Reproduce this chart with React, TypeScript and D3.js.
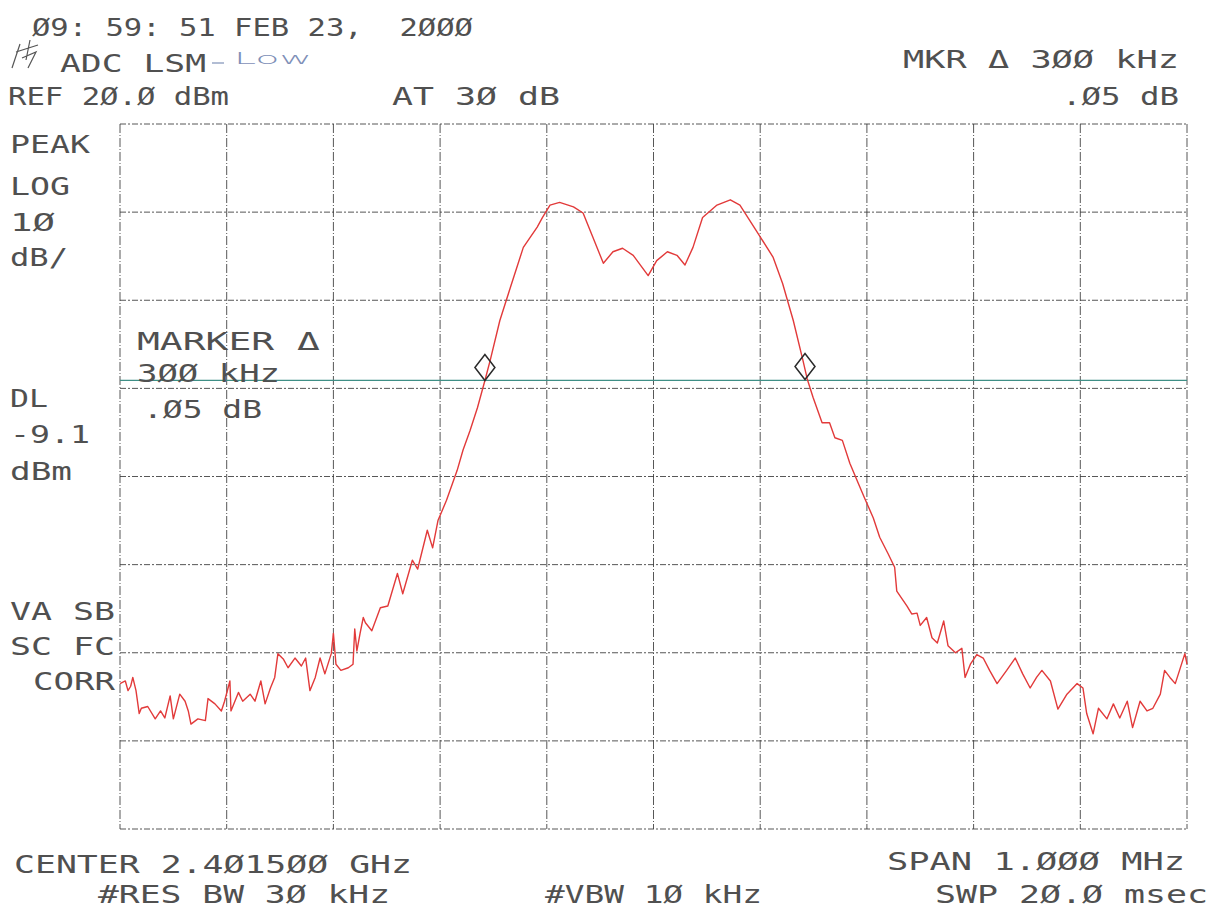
import React from "react";
import * as d3 from "d3";

// Spectrum analyzer trace: frequency offset from center (kHz) and level (dBm)
const traceFreq: number[] = [
  -500, -495, -492.5, -490, -488, -485, -482, -480, -474, -467, -462, -458, -453, -450, -444, -439, -436, -433.5,
  -427, -420, -417.5, -411, -405, -402, -397, -396, -389, -385, -378, -373.5, -368, -364, -359, -355, -352, -347,
  -342.5, -336, -330, -326, -322, -317, -312.5, -308, -302, -300, -297.6, -293, -286, -281.6, -280, -278, -275,
  -272, -270, -264, -256, -249, -240, -235, -226, -221, -212, -207, -202, -194, -184, -178.5, -172, -165, -158,
  -153, -144, -134, -122, -109, -104, -97, -88, -75, -66, -57, -47, -38, -29, -19, -5, 3, 13, 22, 29.5, 37, 46,
  59.5, 72, 81, 90, 100, 112, 121, 131, 140, 144, 149.5, 158, 165, 170, 177, 184, 192, 198, 206, 212, 220, 226,
  228, 237.6, 242, 247, 250, 256, 261, 266, 272, 276, 283, 289, 292, 297, 303, 309, 315, 322, 331, 339, 346, 353,
  359, 364, 372, 379, 387.5, 397, 402.5, 406, 412, 417, 425, 431, 437, 444, 449, 456, 462.5, 468, 475, 479, 484,
  489, 493, 498, 500,
];
const traceLevel: number[] = [
  -43.5, -43.2, -44.3, -43.8, -42.8, -44.3, -46.9, -46.3, -46.1, -47.5, -46.6, -47.4, -44.9, -47.5, -44.7, -45.5,
  -46.6, -48.1, -47.5, -47.7, -45.2, -45.8, -46.6, -45.5, -43.2, -46.6, -44.5, -45.5, -44.7, -45.5, -43.2, -45.8,
  -44.0, -42.8, -40.1, -40.7, -41.7, -40.6, -41.5, -40.6, -44.3, -42.8, -40.6, -42.4, -40.1, -37.8, -41.3, -42.0,
  -41.7, -41.3, -37.3, -39.8, -37.8, -36.0, -36.6, -37.5, -34.9, -34.7, -31.0, -33.3, -29.5, -30.5, -26.1, -28.1,
  -25.0, -22.7, -19.3, -17.0, -14.8, -12.2, -9.1, -6.8, -2.3, 1.5, 6.0, 8.3, 9.4, 10.8, 11.1, 10.6, 9.9, 7.2, 4.2,
  5.5, 5.9, 5.1, 2.8, 4.5, 5.5, 5.1, 4.0, 6.0, 9.4, 10.8, 11.4, 10.8, 9.1, 7.2, 4.9, 1.9, -2.3, -6.8, -8.9, -11.0,
  -13.9, -13.9, -15.6, -15.9, -18.5, -20.8, -22.5, -24.7, -26.9, -28.8, -30.3, -33.0, -34.7, -35.6, -35.5, -36.9,
  -36.0, -38.3, -38.9, -36.4, -39.2, -40.0, -39.5, -42.8, -41.3, -40.2, -40.6, -42.0, -43.5, -42.0, -40.6, -42.4,
  -44.0, -42.8, -42.0, -43.2, -46.4, -44.7, -43.5, -44.0, -46.9, -49.2, -46.3, -47.5, -45.8, -47.4, -45.5, -48.5,
  -45.5, -46.6, -46.3, -44.7, -42.0, -42.8, -43.5, -42.0, -40.1, -41.3,
];

// Markers (delta pair) and display line
const markerFreq: number[] = [-158, 142];
const markerLevel: number[] = [-9.1, -9.0];
const displayLine = -9.1; // dBm
const refLevel = 20; // dBm
const dbPerDiv = 10;
const spanKHz = 1000;

// Annotation texts
const titleText = "Ø9: 59: 51 FEB 23,  2ØØØ";
const subtitleText = "ADC LSM";
const handNote = "Low";
const refText = "REF 2Ø.Ø dBm";
const attText = "AT 3Ø dB";
const mkrText = "MKR Δ 3ØØ kHz";
const mkrDbText = ".Ø5 dB";
const leftLabels = ["PEAK", "LOG", "1Ø", "dB/"];
const markerLabels = ["MARKER Δ", "3ØØ kHz", ".Ø5 dB"];
const dlLabels = ["DL", "-9.1", "dBm"];
const modeLabels = ["VA SB", "SC FC", "CORR"];
const centerText = "CENTER 2.4Ø15ØØ GHz";
const rbwText = "#RES BW 3Ø kHz";
const vbwText = "#VBW 1Ø kHz";
const spanText = "SPAN 1.ØØØ MHz";
const swpText = "SWP 2Ø.Ø msec";

const W = 1212;
const H = 909;
const L = 120, R = 1187, T = 124, B = 829;

const FONT = "'DejaVu Sans Mono', monospace";
const INK = "#505050";

function Txt({ x, y, w, s, size = 25, fill = INK }: { x: number; y: number; w: number; s: string; size?: number; fill?: string }) {
  return (
    <text
      x={x}
      y={y}
      textLength={w}
      lengthAdjust="spacingAndGlyphs"
      fontFamily={FONT}
      fontSize={size}
      fill={fill}
      style={{ whiteSpace: "pre" }}
    >
      {s}
    </text>
  );
}

export default function App() {
  const x = d3.scaleLinear().domain([-spanKHz / 2, spanKHz / 2]).range([L, R]);
  const y = d3.scaleLinear().domain([refLevel - 8 * dbPerDiv, refLevel]).range([B, T]);
  const xTicks = d3.range(-spanKHz / 2, spanKHz / 2 + 1, spanKHz / 10);
  const yTicks = d3.range(refLevel - 8 * dbPerDiv, refLevel + 1, dbPerDiv);
  const pts: [number, number][] = traceFreq.map((f, i) => [f, traceLevel[i]]);
  const line = d3.line<[number, number]>().x((d) => x(d[0])).y((d) => y(d[1]));

  return (
    <svg width={W} height={H} style={{ position: "absolute", left: 0, top: 0, background: "#fff" }}>
      <rect x={0} y={0} width={W} height={H} fill="#fff" />
      {/* grid */}
      {yTicks.map((t) => (
        <line key={"h" + t} x1={L} x2={R} y1={y(t)} y2={y(t)} stroke="#3a3a3a" strokeWidth={1} strokeDasharray="6,2,2,2" opacity={0.85} />
      ))}
      {xTicks.map((t) => (
        <line key={"v" + t} x1={x(t)} x2={x(t)} y1={T} y2={B} stroke="#3a3a3a" strokeWidth={1} strokeDasharray="9,2,1,2" opacity={0.85} />
      ))}
      {/* display line */}
      <line x1={L} x2={R} y1={y(displayLine)} y2={y(displayLine)} stroke="#3f8f86" strokeWidth={1.3} />
      {/* trace */}
      <path d={line(pts) || ""} fill="none" stroke="#e23a3a" strokeWidth={1.4} strokeLinejoin="round" />
      {/* markers */}
      {markerFreq.map((f, i) => {
        const cx = x(f);
        const by = y(markerLevel[i]);
        return (
          <path key={"m" + i} d={`M${cx},${by} L${cx - 10},${by - 13} L${cx},${by - 26} L${cx + 10},${by - 13} Z`} fill="none" stroke="#2a2a2a" strokeWidth={1.5} />
        );
      })}
      {/* header */}
      <path d="M12,68 L20,44 M16,52 L38,45 M22,58 L36,52 L28,68 M30,40 L26,60" stroke="#555" strokeWidth={1.2} fill="none" />
      <Txt x={32} y={36} w={441} s={titleText} />
      <Txt x={60} y={72} w={146} s={subtitleText} />
      <line x1={212} x2={224} y1={63} y2={63} stroke="#7f90b8" strokeWidth={1.2} />
      <text x={234} y={64} fontFamily="'DejaVu Sans', sans-serif" fontWeight={300} fontSize={16} fill="#7f90b8" textLength={78} lengthAdjust="spacingAndGlyphs">{handNote}</text>
      <Txt x={8} y={105} w={221} s={refText} />
      <Txt x={392} y={105} w={168} s={attText} />
      <Txt x={903} y={68} w={276} s={mkrText} />
      <Txt x={1062} y={105} w={117} s={mkrDbText} />
      {/* left column */}
      <Txt x={10} y={153} w={80} s={leftLabels[0]} />
      <Txt x={10} y={195} w={60} s={leftLabels[1]} />
      <Txt x={10} y={231} w={45} s={leftLabels[2]} />
      <Txt x={10} y={266} w={58} s={leftLabels[3]} />
      <Txt x={137} y={350} w={183} s={markerLabels[0]} />
      <Txt x={137} y={382} w={143} s={markerLabels[1]} />
      <Txt x={143} y={418} w={119} s={markerLabels[2]} />
      <Txt x={10} y={407} w={38} s={dlLabels[0]} />
      <Txt x={10} y={443} w={80} s={dlLabels[1]} />
      <Txt x={10} y={480} w={62} s={dlLabels[2]} />
      <Txt x={10} y={620} w={105} s={modeLabels[0]} />
      <Txt x={10} y={655} w={105} s={modeLabels[1]} />
      <Txt x={33} y={690} w={82} s={modeLabels[2]} />
      {/* footer */}
      <Txt x={14} y={873} w={398} s={centerText} />
      <Txt x={98} y={903} w={292} s={rbwText} />
      <Txt x={545} y={903} w={217} s={vbwText} />
      <Txt x={887} y={870} w={298} s={spanText} />
      <Txt x={935} y={903} w={273} s={swpText} />
    </svg>
  );
}
